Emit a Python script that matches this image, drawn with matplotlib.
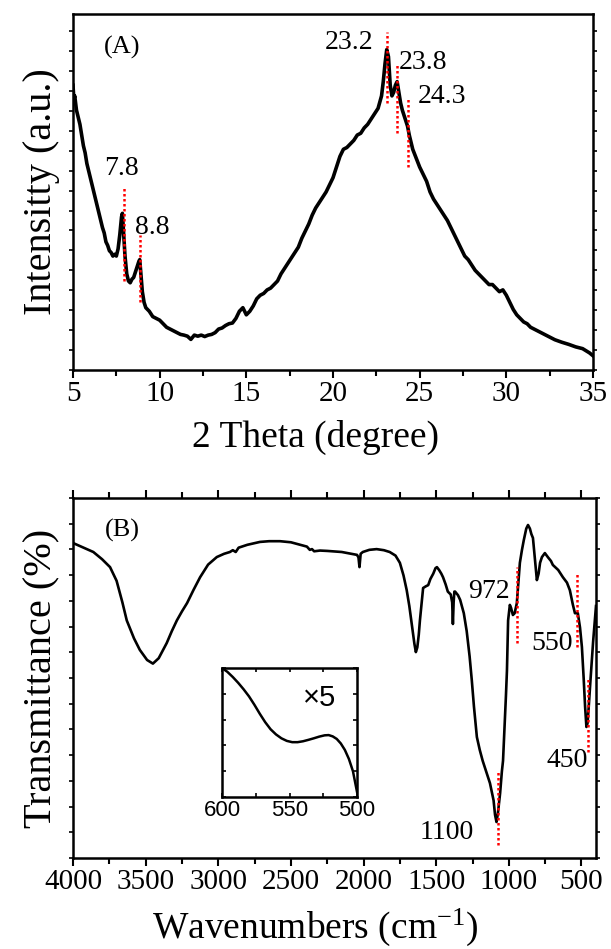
import matplotlib
matplotlib.use("Agg")
import matplotlib.pyplot as plt
from matplotlib.ticker import MultipleLocator

plt.rcParams['font.family'] = ['Liberation Serif', 'DejaVu Serif']
plt.rcParams['mathtext.fontset'] = 'custom'
plt.rcParams['mathtext.rm'] = 'Liberation Serif'
plt.rcParams['mathtext.it'] = 'Liberation Serif:italic'

### ---- (A) XRD pattern ----
xrd_2theta = [5.0, 5.05, 5.1, 5.2, 5.3, 5.4, 5.5, 5.6, 5.7, 5.8, 5.9, 6.0, 6.1, 6.2, 6.3, 6.4,
              6.5, 6.6, 6.7, 6.8, 6.9, 7.0, 7.1, 7.2, 7.3, 7.4, 7.5, 7.6, 7.7, 7.8, 7.85, 7.9,
              8.0, 8.1, 8.2, 8.3, 8.4, 8.5, 8.6, 8.7, 8.8, 8.85, 8.9, 9.0, 9.1, 9.2, 9.4, 9.6,
              9.8, 10.0, 10.2, 10.4, 10.6, 10.8, 11.0, 11.2, 11.4, 11.6, 11.8, 12.0, 12.2, 12.4,
              12.6, 12.8, 13.0, 13.2, 13.4, 13.6, 13.8, 14.0, 14.2, 14.4, 14.6, 14.8, 15.0, 15.2,
              15.4, 15.6, 15.8, 16.0, 16.2, 16.4, 16.6, 16.8, 17.0, 17.2, 17.4, 17.6, 17.8, 18.0,
              18.2, 18.4, 18.6, 18.8, 19.0, 19.2, 19.4, 19.6, 19.8, 20.0, 20.2, 20.4, 20.6, 20.8,
              21.0, 21.2, 21.4, 21.6, 21.8, 22.0, 22.2, 22.4, 22.6, 22.8, 22.9, 23.0, 23.1, 23.2,
              23.3, 23.4, 23.5, 23.6, 23.7, 23.8, 23.9, 24.0, 24.2, 24.3, 24.4, 24.6, 24.8, 25.0,
              25.2, 25.4, 25.6, 25.8, 26.0, 26.2, 26.4, 26.6, 26.8, 27.0, 27.2, 27.4, 27.6, 27.8,
              28.0, 28.2, 28.4, 28.6, 28.8, 29.0, 29.2, 29.4, 29.6, 29.8, 30.0, 30.2, 30.4, 30.6,
              30.8, 31.0, 31.2, 31.4, 31.6, 31.8, 32.0, 32.4, 32.8, 33.2, 33.6, 34.0, 34.4, 34.8, 35.0]
xrd_intensity = [80, 76, 77, 73, 71, 69, 66, 63, 61, 58, 56, 54, 52, 50, 48, 46,
                 44, 42, 40, 38.5, 36, 35, 33.5, 33, 32, 32.5, 32, 34, 38, 43, 44, 40,
                 32, 27, 25, 24.5, 25.5, 26, 27.5, 29, 30.5, 31, 28, 22, 19, 17.5, 16.5, 15,
                 14.5, 14, 13, 12, 11.5, 11, 10.5, 10, 9.8, 9.5, 8.6, 9.8, 9.5, 9.8,
                 9.4, 9.8, 10, 10.5, 11.5, 11.8, 12.5, 13, 13.2, 14.5, 16.5, 17.5, 15.5, 16.5,
                 18, 20, 21, 21.5, 22.5, 23, 24, 25, 27, 28.5, 30, 31.5, 33, 34.5,
                 37, 39, 41, 43.5, 45.5, 47, 48.5, 50, 52, 54, 57, 60, 62, 62.5,
                 63.5, 64.5, 66, 66.5, 68, 69, 70.5, 72, 73.5, 77, 81, 86, 90, 88,
                 80, 77, 78, 80, 81, 78, 75, 73, 70, 68.5, 66, 62, 59.5, 57,
                 55, 53, 50, 48, 46.5, 45, 43.5, 42, 40, 38, 36, 34, 32, 31,
                 29.5, 28, 27, 26, 25, 24, 24, 23, 22, 22.5, 21, 19, 17, 15.5,
                 14.5, 13.5, 13, 12, 11.5, 11, 10.5, 9.5, 8.5, 7.8, 7.2, 6.5, 6, 4.8, 4]
xrd_peaks = [7.8, 8.8, 23.2, 23.8, 24.3]
xrd_peak_marks = [7.93, 8.85, 23.1, 23.7, 24.3]
xrd_mark_low = [25, 19, 75, 66.5, 57]
xrd_mark_high = [51, 38, 95, 86, 76.5]

### ---- (B) FTIR spectrum ----
ir_wavenumber = [4000, 3900, 3860, 3800, 3745, 3700, 3660, 3630, 3580, 3540, 3490, 3450, 3410,
                 3355, 3320, 3285, 3250, 3215, 3170, 3125, 3070, 3010, 2960, 2920, 2900, 2880,
                 2860, 2800, 2713, 2650, 2575, 2500, 2437, 2390, 2370, 2355, 2340, 2300, 2250,
                 2150, 2045, 2035, 2028, 2020, 2005, 1960, 1910, 1860, 1820, 1780, 1750, 1725,
                 1703, 1685, 1668, 1650, 1640, 1630, 1620, 1612, 1600, 1590, 1570, 1555, 1540,
                 1520, 1505, 1495, 1480, 1465, 1453, 1435, 1420, 1400, 1390, 1385, 1380, 1375,
                 1370, 1350, 1335, 1310, 1290, 1270, 1255, 1240, 1220, 1200, 1180, 1160, 1130,
                 1105, 1095, 1085, 1075, 1060, 1048, 1040, 1030, 1020, 1013, 1008, 1005, 993,
                 985, 972, 960, 945, 935, 924, 910, 897, 880, 868, 855, 845, 834, 820, 807, 795,
                 785, 772, 752, 730, 710, 697, 660, 628, 600, 580, 560, 545, 525, 510, 497, 485,
                 475, 466, 458, 450, 438, 420, 404, 400]
ir_transmittance = [87.5, 85.7, 85, 83, 80.8, 77, 71, 66, 61, 57.8, 55, 54, 55.5,
                    59.7, 63, 66, 68.5, 70.8, 74.5, 78, 81.5, 83.6, 84.5, 85, 85.5, 85.0,
                    86.2, 87, 87.8, 88, 88, 87.7, 87, 86.5, 85.6, 85.8, 85.2, 85.4, 85.3,
                    85, 84.2, 83.5, 80.8, 84.5, 85, 85.6, 85.8, 85.5, 85, 84, 82, 78.5,
                    74.4, 70, 65, 59.5, 57.2, 58.5, 62, 66, 71, 75, 75.5, 75.8, 77.5,
                    79, 80.5, 80.8, 80, 79, 78, 76, 74, 73.2, 71, 65, 71, 74,
                    74, 73, 71.7, 68, 63, 56, 49.4, 42, 33.6, 30, 27, 24.5, 20.8,
                    16, 12, 10, 12.5, 18, 24, 27, 36, 45, 52, 60, 66, 70.3,
                    69.5, 67.5, 68, 70.8, 76, 82, 85.5, 88.3, 91.5, 92.5, 91.5, 90, 88.9, 83, 77.2, 79,
                    82, 83.6, 84.7, 83.5, 82.5, 81.4, 80, 78, 76.5, 74.4, 70.5, 68, 68, 64, 58.6, 50,
                    42, 36.4, 37.5, 42, 49.4, 60, 68, 70]
ir_peaks = [1100, 972, 550, 450]
ir_peak_marks = [1075, 945, 534, 452]
ir_mark_low = [3.6, 59.7, 58.6, 29.4]
ir_mark_high = [24.4, 80.8, 79.4, 50.3]

### ---- inset, 600-500 cm-1 region x5 ----
inset_wavenumber = [600, 596, 592, 588, 584, 580, 576, 572, 568, 564, 560, 556, 552, 548,
                    544, 540, 536, 532, 528, 524, 521, 518, 515, 512, 509, 506, 503, 500]
inset_value = [100, 97, 93, 88.5, 83.5, 78, 71.5, 64.5, 58, 52.5, 48.5, 45.5, 43.5, 42.5,
               42.5, 43.2, 44.3, 45.5, 46.8, 47.8, 48, 47, 45, 41.5, 36.5, 29.5, 20, 4]

red_dot = dict(color='red', ls=(0, (1, 1)), lw=1.8)

fig = plt.figure(figsize=(6.11, 9.49), dpi=100)

###==========================
### top panel (A)
###==========================
ax1 = fig.add_axes([73/611, 1-370/949, 520/611, 356/949])
ax1.plot(xrd_2theta, xrd_intensity, color='black', lw=2.6)
for xm, lo, hi in zip(xrd_peak_marks, xrd_mark_low, xrd_mark_high):
    ax1.plot([xm, xm], [lo, hi], **red_dot)
ax1.set_xlim(5, 35)
ax1.set_ylim(0, 100)
ax1.xaxis.set_major_locator(MultipleLocator(5))
ax1.xaxis.set_minor_locator(MultipleLocator(2.5))
ax1.yaxis.set_major_locator(MultipleLocator(5.6))
ax1.tick_params(axis='x', which='major', direction='out', length=6, width=1.5, labelsize=21, pad=2)
ax1.tick_params(axis='x', which='minor', direction='out', length=4, width=1.5)
ax1.tick_params(axis='y', which='major', direction='out', length=3, width=1.2,
                left=True, right=True, labelleft=False)
for s in ax1.spines.values():
    s.set_linewidth(1.8)

lbl = dict(fontsize=20, ha='center', va='center')
ax1.text(7.8, 56.7, '%.1f' % xrd_peaks[0], **lbl)
ax1.text(9.55, 40, '%.1f' % xrd_peaks[1], **lbl)
ax1.text(20.9, 92, '%.1f' % xrd_peaks[2], **lbl)
ax1.text(25.2, 86.5, '%.1f' % xrd_peaks[3], **lbl)
ax1.text(26.3, 76.7, '%.1f' % xrd_peaks[4], **lbl)
ax1.text(0.094, 0.907, '(A)', transform=ax1.transAxes, fontsize=19, ha='center', va='center')

fig.text(42/611, 1-192/949, 'Intensitty (a.u.)', rotation=90, fontsize=29, ha='center', va='center')
fig.text(315/611, 1-437/949, '2 Theta (degree)', fontsize=27, ha='center', va='center')

###==========================
### bottom panel (B)
###==========================
ax2 = fig.add_axes([73/611, 1-858/949, 523/611, 360/949])
ax2.plot(ir_wavenumber, ir_transmittance, color='black', lw=1.9)
for xm, lo, hi in zip(ir_peak_marks, ir_mark_low, ir_mark_high):
    ax2.plot([xm, xm], [lo, hi], **red_dot)
ax2.set_xlim(4000, 400)
ax2.set_ylim(0, 100)
ax2.xaxis.set_major_locator(MultipleLocator(500))
ax2.xaxis.set_minor_locator(MultipleLocator(250))
ax2.yaxis.set_major_locator(MultipleLocator(100/14))
ax2.tick_params(axis='x', which='major', direction='out', length=6, width=1.5, labelsize=21, pad=2,
                top=True)
ax2.tick_params(axis='x', which='minor', direction='out', length=4, width=1.5, top=True)
ax2.tick_params(axis='y', which='major', direction='out', length=3, width=1.2,
                left=True, right=True, labelleft=False)
for s in ax2.spines.values():
    s.set_linewidth(1.8)

ax2.text(1425, 7, str(ir_peaks[0]), **lbl)
ax2.text(1140, 74, str(ir_peaks[1]), **lbl)
ax2.text(703, 59.7, str(ir_peaks[2]), **lbl)
ax2.text(600, 27, str(ir_peaks[3]), **lbl)
ax2.text(0.094, 0.91, '(B)', transform=ax2.transAxes, fontsize=19, ha='center', va='center')

fig.text(42/611, 1-678/949, 'Transmittance (%)', rotation=90, fontsize=29, ha='center', va='center')
fig.text(315/611, 1-927/949, r'Wavenumbers (cm$^{-1}$)', fontsize=27, ha='center', va='center')

###==========================
### inset
###==========================
ax3 = fig.add_axes([222/611, 1-797/949, 135/611, 129/949])
ax3.plot(inset_wavenumber, inset_value, color='black', lw=1.8)
ax3.set_xlim(600, 500)
ax3.set_ylim(0, 100)
ax3.set_xticks([600, 550, 500])
ax3.xaxis.set_minor_locator(MultipleLocator(25))
ax3.yaxis.set_major_locator(MultipleLocator(20))
ax3.tick_params(axis='both', which='both', direction='in', width=1.2, length=3,
                top=True, right=True, labelleft=False)
ax3.tick_params(axis='x', which='major', labelsize=16, pad=2)
for t in ax3.get_xticklabels():
    t.set_fontfamily('Liberation Sans')
for s in ax3.spines.values():
    s.set_linewidth(1.8)
ax3.text(0.726, 0.77, '\u00d75', transform=ax3.transAxes, fontsize=21,
         family='Liberation Sans', ha='center', va='center')

fig.savefig('out.png', dpi=100)
